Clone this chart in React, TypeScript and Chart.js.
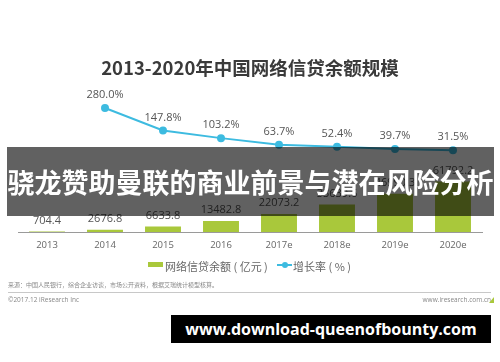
import React, { useEffect, useRef } from "react";
import { Chart, registerables } from "chart.js";

Chart.register(...registerables);

const categories = ["2013", "2014", "2015", "2016", "2017e", "2018e", "2019e", "2020e"];
const balanceValues = [704.4, 2676.8, 6633.8, 13482.8, 22073.2, 33639.6, 46990.3, 61792.2];
const balanceLabels = ["704.4", "2676.8", "6633.8", "13482.8", "22073.2", "33639.6", "46990.3", "61792.2"];
const growthRates = [null, 280.0, 147.8, 103.2, 63.7, 52.4, 39.7, 31.5];
const growthLabels = ["", "280.0%", "147.8%", "103.2%", "63.7%", "52.4%", "39.7%", "31.5%"];

const GREEN = "#a9c83b";
const BLUE = "#3dbbe0";
const FONT = '"Open Sans", "Noto Sans CJK SC", sans-serif';
const CJK = '"Noto Sans CJK SC", "Open Sans", sans-serif';

const valueLabelPlugin = {
  id: "valueLabels",
  afterDatasetsDraw(chart: any) {
    const ctx = chart.ctx;
    ctx.save();
    ctx.font = `11px ${FONT}`;
    ctx.fillStyle = "#555";
    ctx.textAlign = "center";
    ctx.textBaseline = "middle";
    const barMeta = chart.getDatasetMeta(0);
    barMeta.data.forEach((el: any, i: number) => {
      ctx.fillText(balanceLabels[i], el.x, el.y - 11);
    });
    const lineMeta = chart.getDatasetMeta(1);
    lineMeta.data.forEach((el: any, i: number) => {
      if (growthRates[i] == null) return;
      ctx.fillText(growthLabels[i], el.x, el.y - 13);
    });
    ctx.restore();
  },
};

export default function App() {
  const ref = useRef<HTMLCanvasElement | null>(null);

  useEffect(() => {
    if (!ref.current) return;
    const chart = new Chart(ref.current, {
      type: "bar",
      data: {
        labels: categories,
        datasets: [
          {
            type: "bar",
            label: "网络信贷余额（亿元）",
            data: balanceValues,
            backgroundColor: GREEN,
            yAxisID: "y",
            barPercentage: 0.62,
            categoryPercentage: 1,
            order: 2,
          },
          {
            type: "line",
            label: "增长率（%）",
            data: growthRates as any,
            borderColor: BLUE,
            backgroundColor: BLUE,
            borderWidth: 2,
            pointRadius: 3,
            pointBackgroundColor: BLUE,
            pointBorderColor: BLUE,
            yAxisID: "y2",
            tension: 0,
            spanGaps: false,
            order: 1,
          } as any,
        ],
      },
      options: {
        animation: false,
        responsive: false,
        maintainAspectRatio: false,
        layout: { padding: { left: 18, right: 18, top: 100, bottom: 110 } },
        plugins: {
          legend: { display: false },
          title: { display: false },
          tooltip: { enabled: false },
        },
        scales: {
          x: {
            grid: { display: false, drawTicks: false },
            border: { display: true, color: "#9a9a9a", width: 1 },
            ticks: {
              color: "#666",
              font: { size: 9.5, family: FONT },
              padding: 8,
            },
            afterFit(scale: any) {
              scale.height = 20;
            },
          },
          y: {
            display: false,
            min: 0,
            max: 161800,
          },
          y2: {
            display: false,
            position: "right",
            min: -448.3,
            max: 327.2,
          },
        },
      },
      plugins: [valueLabelPlugin],
    });
    return () => chart.destroy();
  }, []);

  const abs = (s: React.CSSProperties): React.CSSProperties => ({ position: "absolute", ...s });

  return (
    <div style={{ position: "absolute", left: 0, top: 0, width: 500, height: 362, background: "#fff", overflow: "hidden" }}>
      <canvas ref={ref} width={500} height={362} style={{ position: "absolute", left: 0, top: 0, width: 500, height: 362 }} />
      <div
        style={abs({
          left: 0,
          top: 56,
          width: 500,
          textAlign: "center",
          font: `bold 18.5px ${CJK}`,
          lineHeight: "22px",
          color: "#3a3a3a",
          whiteSpace: "nowrap",
        })}
      >
        2013-2020年中国网络信贷余额规模
      </div>

      {/* legend */}
      <div style={abs({ left: 148, top: 262, width: 15, height: 5, background: GREEN })} />
      <div style={abs({ left: 165, top: 258, font: `11px ${CJK}`, lineHeight: "16px", color: "#666", whiteSpace: "nowrap" })}>
        网络信贷余额 ( 亿元 )
      </div>
      <div style={abs({ left: 277, top: 264, width: 15, height: 2, background: BLUE })} />
      <div style={abs({ left: 282, top: 262, width: 6, height: 6, borderRadius: 3, background: BLUE })} />
      <div style={abs({ left: 293, top: 258, font: `11px ${CJK}`, lineHeight: "16px", color: "#666", whiteSpace: "nowrap" })}>
        增长率 ( % )
      </div>

      {/* source */}
      <div style={abs({ left: 8, top: 281, font: `6px ${CJK}`, lineHeight: "8px", color: "#888", whiteSpace: "nowrap" })}>
        来源：中国人民银行，综合企业访谈，市场公开资料，根据艾瑞统计模型核算。
      </div>
      <div style={abs({ left: 8, top: 292, width: 483, height: 1, background: "#c8c8c8" })} />
      <div style={abs({ left: 8, top: 295, font: `6.5px ${FONT}`, lineHeight: "9px", color: "#888", whiteSpace: "nowrap" })}>
        ©2017.12 iResearch Inc
      </div>
      <div style={abs({ right: 9, top: 295, font: `6.5px ${FONT}`, lineHeight: "9px", color: "#888", whiteSpace: "nowrap" })}>
        www.iresearch.com.cn
      </div>
      <div
        style={abs({
          left: 489,
          top: 297,
          width: 0,
          height: 0,
          borderLeft: "5px solid transparent",
          borderBottom: `6px solid ${GREEN}`,
        })}
      />

      {/* overlay band */}
      <div
        style={abs({
          left: 7,
          top: 147,
          width: 487,
          height: 69,
          background: "rgba(0,0,0,0.62)",
          color: "#fff",
          font: `bold 27px ${CJK}`,
          lineHeight: "69px",
          textAlign: "center",
          whiteSpace: "nowrap",
          overflow: "visible",
        })}
      >
        骁龙赞助曼联的商业前景与潜在风险分析
      </div>

      {/* watermark box */}
      <div
        style={abs({
          left: 171,
          top: 315,
          width: 320,
          height: 28,
          background: "#000",
          color: "#fff",
          font: `bold 16px ${FONT}`,
          lineHeight: "28px",
          textAlign: "center",
          whiteSpace: "nowrap",
        })}
      >
        www.download-queenofbounty.com
      </div>
    </div>
  );
}
